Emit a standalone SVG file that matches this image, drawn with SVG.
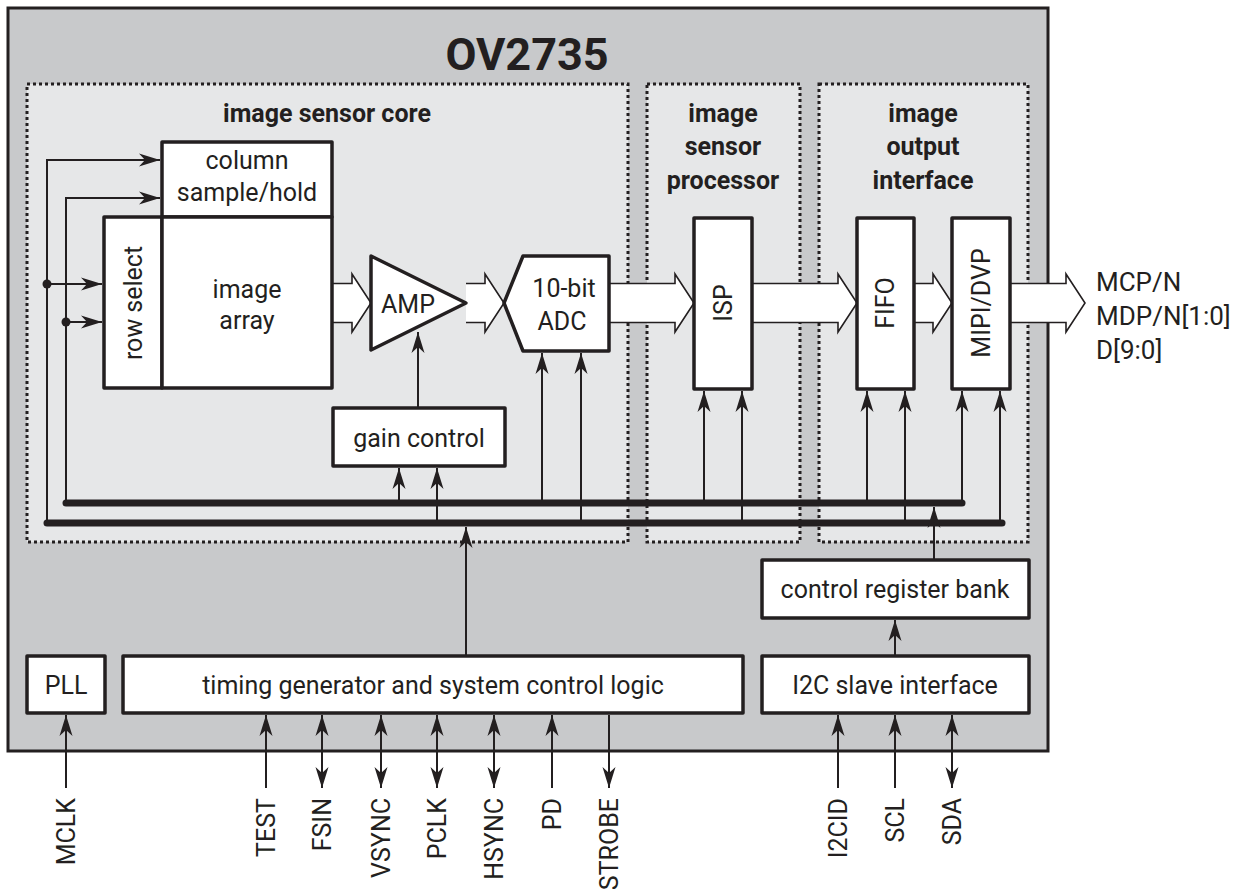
<svg xmlns="http://www.w3.org/2000/svg" width="1234" height="889" viewBox="0 0 1234 889">
<style>
text{font-family:Roboto,"Liberation Sans",sans-serif;fill:#231f20;font-size:25px}
.b{font-weight:bold}
.c{text-anchor:middle}
.e{text-anchor:end}
.box{fill:#fff;stroke:#231f20;stroke-width:3.5;stroke-linejoin:round}
.reg{fill:#e6e7e8;stroke:#231f20;stroke-width:3;stroke-dasharray:3 3}
.w{fill:none;stroke:#231f20;stroke-width:2}
.bus{fill:none;stroke:#231f20;stroke-width:7;stroke-linecap:round}
.ba{fill:#fff;stroke:#231f20;stroke-width:1.6;stroke-linejoin:miter}
.a{marker-end:url(#ah)}
.aa{marker-start:url(#ah);marker-end:url(#ah)}
</style>
<defs>
<marker id="ah" markerUnits="userSpaceOnUse" markerWidth="24" markerHeight="16" viewBox="-22 -8 24 16" refX="0" refY="0" orient="auto-start-reverse"><path d="M0,0 L-21,-6.5 L-15,0 L-21,6.5 Z" fill="#231f20"/></marker>
</defs>

<g id="chip">
<rect x="8" y="8" width="1040" height="743" fill="#c8c9cb" stroke="#231f20" stroke-width="3"/>
<text class="b c" x="527" y="70" style="font-size:45px">OV2735</text>
</g>

<g id="region-core">
<rect class="reg" x="27" y="84" width="601" height="458"/>
<text class="b c" x="327" y="122">image sensor core</text>
</g>
<g id="region-isp">
<rect class="reg" x="647" y="84" width="153" height="458"/>
<text class="b c" x="723" y="122">image</text>
<text class="b c" x="723" y="155">sensor</text>
<text class="b c" x="723" y="189">processor</text>
</g>
<g id="region-output">
<rect class="reg" x="819" y="84" width="209" height="458"/>
<text class="b c" x="923" y="122">image</text>
<text class="b c" x="923" y="155">output</text>
<text class="b c" x="923" y="189">interface</text>
</g>

<g id="connectors">
<!-- buses -->
<line class="bus" x1="66" y1="503" x2="962" y2="503"/>
<line class="bus" x1="47" y1="523" x2="1002" y2="523"/>
<!-- left feeds -->
<polyline class="w a" points="47,523 47,160 160,160"/>
<polyline class="w a" points="66,503 66,198 160,198"/>
<line class="w a" x1="47" y1="284" x2="102" y2="284"/>
<line class="w a" x1="66" y1="322" x2="102" y2="322"/>
<circle cx="47" cy="284" r="4.5" fill="#231f20"/>
<circle cx="66" cy="322" r="4.5" fill="#231f20"/>
<!-- gain control -->
<line class="w a" x1="418" y1="408" x2="418" y2="332"/>
<line class="w a" x1="399" y1="503" x2="399" y2="468"/>
<line class="w a" x1="437" y1="523" x2="437" y2="468"/>
<!-- ADC -->
<line class="w a" x1="542" y1="503" x2="542" y2="353"/>
<line class="w a" x1="581" y1="523" x2="581" y2="353"/>
<!-- ISP -->
<line class="w a" x1="704" y1="503" x2="704" y2="391"/>
<line class="w a" x1="742" y1="523" x2="742" y2="391"/>
<!-- FIFO -->
<line class="w a" x1="867" y1="503" x2="867" y2="391"/>
<line class="w a" x1="905" y1="523" x2="905" y2="391"/>
<!-- MIPI -->
<line class="w a" x1="962" y1="503" x2="962" y2="391"/>
<line class="w a" x1="1000" y1="523" x2="1000" y2="391"/>
<!-- timing to bus -->
<line class="w a" x1="466" y1="656" x2="466" y2="527"/>
<!-- control register bank to bus -->
<line class="w a" x1="934" y1="560" x2="934" y2="507"/>
<!-- I2C to control register -->
<line class="w a" x1="895" y1="656" x2="895" y2="620"/>
<!-- pins -->
<line class="w a" x1="66" y1="788" x2="66" y2="715"/>
<line class="w a" x1="266" y1="788" x2="266" y2="715"/>
<line class="w aa" x1="322" y1="788" x2="322" y2="715"/>
<line class="w aa" x1="381" y1="788" x2="381" y2="715"/>
<line class="w aa" x1="437" y1="788" x2="437" y2="715"/>
<line class="w aa" x1="494" y1="788" x2="494" y2="715"/>
<line class="w a" x1="552" y1="788" x2="552" y2="715"/>
<line class="w a" x1="609" y1="715" x2="609" y2="788"/>
<line class="w a" x1="838" y1="788" x2="838" y2="715"/>
<line class="w a" x1="895" y1="788" x2="895" y2="715"/>
<line class="w aa" x1="952" y1="788" x2="952" y2="715"/>
<!-- block data arrows -->
<path class="ba" d="M332,283.5 H352 V274 L371,303 L352,332 V322.5 H332"/>
<path class="ba" d="M466,283.5 H485 V274 L504,303 L485,332 V322.5 H466"/>
<path class="ba" d="M609,283.5 H675 V274 L694,303 L675,332 V322.5 H609"/>
<path class="ba" d="M752,283.5 H838 V274 L857,303 L838,332 V322.5 H752"/>
<path class="ba" d="M914,283.5 H933 V274 L952,303 L933,332 V322.5 H914"/>
<path class="ba" d="M1010,283.5 H1066 V274 L1085,303 L1066,332 V322.5 H1010"/>
</g>

<g id="column-sample-hold">
<rect class="box" x="162" y="142" width="170" height="75"/>
<text class="c" x="247" y="169">column</text>
<text class="c" x="247" y="201">sample/hold</text>
</g>
<g id="row-select">
<rect class="box" x="104" y="217" width="58" height="171"/>
<text class="c" transform="translate(142,303) rotate(-90)">row select</text>
</g>
<g id="image-array">
<rect class="box" x="162" y="217" width="170" height="171"/>
<text class="c" x="247" y="298">image</text>
<text class="c" x="247" y="329">array</text>
</g>
<g id="amp">
<polygon class="box" points="371,256 466,303 371,350"/>
<text class="c" x="408" y="313">AMP</text>
</g>
<g id="adc">
<polygon class="box" points="523,256 609,256 609,351 523,351 504,303"/>
<text class="c" x="564" y="297">10-bit</text>
<text class="c" x="562" y="330">ADC</text>
</g>
<g id="gain-control">
<rect class="box" x="333" y="408" width="172" height="58"/>
<text class="c" x="419" y="447">gain control</text>
</g>
<g id="isp">
<rect class="box" x="694" y="218" width="58" height="171"/>
<text class="c" transform="translate(732,303) rotate(-90)">ISP</text>
</g>
<g id="fifo">
<rect class="box" x="857" y="218" width="57" height="171"/>
<text class="c" transform="translate(894,303) rotate(-90)">FIFO</text>
</g>
<g id="mipi-dvp">
<rect class="box" x="952" y="218" width="58" height="171"/>
<text class="c" transform="translate(990,303) rotate(-90)">MIPI/DVP</text>
</g>
<g id="outputs">
<text x="1096" y="291" style="font-size:26px">MCP/N</text>
<text x="1096" y="325" style="font-size:26px">MDP/N[1:0]</text>
<text x="1096" y="359" style="font-size:26px">D[9:0]</text>
</g>
<g id="control-register-bank">
<rect class="box" x="762" y="560" width="267" height="58"/>
<text class="c" x="895" y="598">control register bank</text>
</g>
<g id="pll">
<rect class="box" x="27" y="656" width="78" height="57"/>
<text class="c" x="66" y="694">PLL</text>
</g>
<g id="timing-generator">
<rect class="box" x="123" y="656" width="620" height="57"/>
<text class="c" x="433" y="694">timing generator and system control logic</text>
</g>
<g id="i2c-slave-interface">
<rect class="box" x="762" y="656" width="267" height="57"/>
<text class="c" x="895" y="694">I2C slave interface</text>
</g>
<g id="pin-labels">
<text class="e" transform="translate(75,798) rotate(-90)">MCLK</text>
<text class="e" transform="translate(275,798) rotate(-90)">TEST</text>
<text class="e" transform="translate(331,798) rotate(-90)">FSIN</text>
<text class="e" transform="translate(390,798) rotate(-90)">VSYNC</text>
<text class="e" transform="translate(446,798) rotate(-90)">PCLK</text>
<text class="e" transform="translate(503,798) rotate(-90)">HSYNC</text>
<text class="e" transform="translate(561,798) rotate(-90)">PD</text>
<text class="e" transform="translate(618,798) rotate(-90)">STROBE</text>
<text class="e" transform="translate(847,798) rotate(-90)">I2CID</text>
<text class="e" transform="translate(904,798) rotate(-90)">SCL</text>
<text class="e" transform="translate(961,798) rotate(-90)">SDA</text>
</g>
</svg>
